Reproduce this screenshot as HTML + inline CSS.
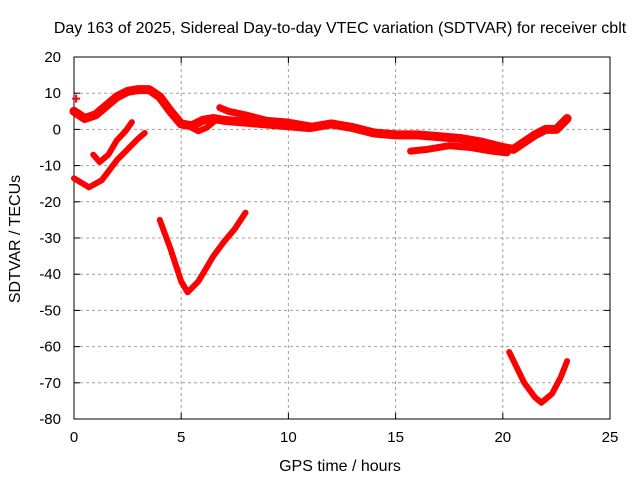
<!DOCTYPE html>
<html><head><meta charset="utf-8"><style>
body{margin:0;background:#fff}
svg text{font-family:"Liberation Sans",sans-serif;font-size:15px;fill:#000}
svg text.big{font-size:16px}
</style></head><body>
<svg id="c" width="640" height="480">
<rect width="640" height="480" fill="#fff"/>
<g id="grid"></g>
<g id="axes"></g>
<g id="series"></g>
<text class="big" x="340" y="33" text-anchor="middle">Day 163 of 2025, Sidereal Day-to-day VTEC variation (SDTVAR) for receiver cblt</text>
<text class="big" x="340" y="471" text-anchor="middle">GPS time / hours</text>
<text class="big" transform="translate(20,239) rotate(-90)" text-anchor="middle">SDTVAR / TECUs</text>
</svg>
<script>
const xTicks=[0,5,10,15,20,25];
const yTicks=[20,10,0,-10,-20,-30,-40,-50,-60,-70,-80];
const segMain=[[0,5],[0.5,3],[1,4],[2,9],[2.5,10.5],[3,11],[3.5,11],[4,9],[4.5,5],[5,1.5],[5.5,1],[6,2.5],[6.5,3],[7,2.5],[8,2],[9,1.5],[10,1],[11,0.5],[12,1.5],[13,0.5],[14,-1],[15,-1.5],[16,-1.5],[17,-2],[18,-2.5],[19,-3.5],[20,-5],[20.5,-5.5],[21,-3.5],[21.5,-1.5],[22,0],[22.5,0],[23,3]];
const segUpper=[[6.8,6],[7.2,5],[8,4],[9,2.5],[10,2],[11,1]];
const segDip=[[5.3,1],[5.8,-0.5],[6.2,0.5],[6.6,2.5]];
const segLower=[[15.7,-6],[16.5,-5.5],[17.5,-4.5],[18.5,-5],[19.5,-6],[20.2,-6.5]];
const segA=[[0.9,-7],[1.2,-9],[1.6,-7],[2,-3],[2.4,-0.5],[2.7,2]];
const segB=[[0,-13.5],[0.7,-16],[1.3,-14],[2,-8.5],[2.5,-5.5],[3,-2.5],[3.3,-1]];
const segC=[[4,-25],[4.5,-33],[5,-42],[5.3,-45],[5.8,-42],[6.5,-35],[7,-31],[7.5,-27.5],[8,-23]];
const segD=[[20.3,-61.5],[21,-70],[21.5,-74],[21.8,-75.5],[22.3,-73],[22.7,-68.5],[23,-64]];
const segments=[segMain,segUpper,segDip,segLower,segA,segB,segC,segD];
const widths=[9,7,6,7,6,6,6,6];
const L=74,R=610,T=57,B=419;
const xs=v=>L+(v-0)/25*(R-L);
const ys=v=>T+(20-v)/100*(B-T);
const NS="http://www.w3.org/2000/svg";
function mk(tag,attrs,parent){const e=document.createElementNS(NS,tag);for(const k in attrs)e.setAttribute(k,attrs[k]);parent.appendChild(e);return e;}
const g=document.getElementById('grid'),a=document.getElementById('axes'),s=document.getElementById('series');
xTicks.forEach(t=>{const x=xs(t);
 if(t>0&&t<25){const l=mk('line',{x1:x,x2:x,y1:T,y2:B,stroke:'#a0a0a0','stroke-dasharray':'3,3'},g);
 
 }
 mk('line',{x1:x,x2:x,y1:B,y2:B-6,stroke:'#000'},a);mk('line',{x1:x,x2:x,y1:T,y2:T+6,stroke:'#000'},a);
 const tx=mk('text',{x:x,y:B+23,'text-anchor':'middle'},a);tx.textContent=t;
 
 });
yTicks.forEach(t=>{const y=ys(t);
 if(t<20&&t>-80){const l=mk('line',{x1:L,x2:R,y1:y,y2:y,stroke:'#a0a0a0','stroke-dasharray':'3,3'},g);
 
 }
 mk('line',{x1:L,x2:L+6,y1:y,y2:y,stroke:'#000'},a);mk('line',{x1:R,x2:R-6,y1:y,y2:y,stroke:'#000'},a);
 const tx=mk('text',{x:L-13,y:y+5,'text-anchor':'end'},a);tx.textContent=t;
 
 });
mk('rect',{x:L,y:T,width:R-L,height:B-T,fill:'none',stroke:'#000'},a);
segments.forEach((seg,i)=>{const p=mk('polyline',{points:seg.map(d=>xs(d[0])+','+ys(d[1])).join(' '),fill:'none',stroke:'#f00','stroke-width':widths[i],'stroke-linejoin':'round','stroke-linecap':'round'},s);
 
 });
const pt=mk('path',{d:`M${xs(0.1)-4},${ys(8.5)}h8M${xs(0.1)},${ys(8.5)-4}v8`,stroke:'#f00','stroke-width':2},s);


</script>
</body></html>
